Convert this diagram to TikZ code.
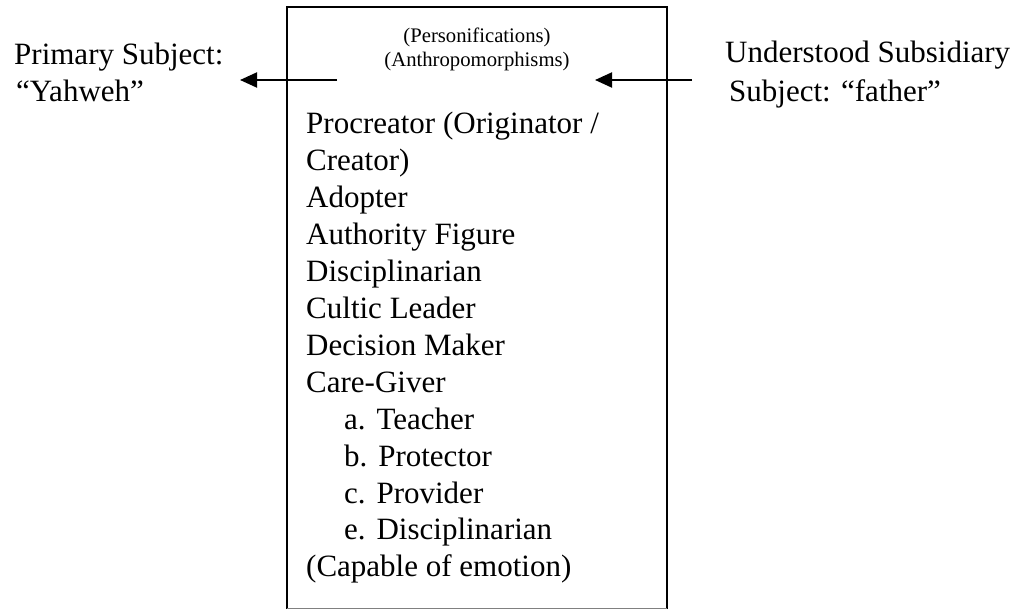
\documentclass[tikz,border=0pt]{standalone}
\usepackage{fontspec}
\setmainfont{Liberation Serif}
\usetikzlibrary{arrows.meta, positioning}

\tikzset{
	txt/.style={inner sep=0pt, anchor=base west, font=\fontsize{31}{36.8}\selectfont},
	hdrtxt/.style={inner sep=0pt, anchor=base, font=\fontsize{20.7}{23.5}\selectfont},
	pointer/.style={line width=2pt, -{Triangle[length=17pt,width=15pt]}}
}

\begin{document}
\begin{tikzpicture}[x=1pt,y=-1pt]
	\useasboundingbox (0,0) rectangle (1024,609);
	% NOTE: y runs downwards here, units are pixels of the scan.
	\draw[line width=2pt] (287,609) -- (287,7) -- (667,7) -- (667,609);
	\draw[gray, line width=1pt] (287,608) -- (667,608);
	\node[hdrtxt] (hdr1) at (477,43) {(Personifications)};
	\node[hdrtxt] (hdr2) at (477,67) {(Anthropomorphisms)};
	\foreach \line [count=\i from 0] in {Procreator (Originator /, Creator), Adopter,
		Authority Figure, Disciplinarian, Cultic Leader, Decision Maker, Care-Giver,
		{\hspace{38pt}a.\hspace{0.35em}Teacher}, {\hspace{38pt}b.\hspace{0.35em}Protector},
		{\hspace{38pt}c.\hspace{0.35em}Provider}, {\hspace{38pt}e.\hspace{0.35em}Disciplinarian},
		(Capable of emotion)}
		\node[txt] (item\i) at (306,{134+36.9*\i}) {\line};
	\node[txt] (prim1) at (14,65) {Primary Subject:};
	\node[txt] (prim2) at (16,102) {“Yahweh”};
	\node[txt] (sub1) at (725,63) {Understood Subsidiary};
	\node[txt] (sub2) at (729,102) {Subject: “father”};
	\coordinate (lfrom) at (337,80);
	\coordinate (lto) at (240,80);
	\coordinate (rfrom) at (692,80);
	\coordinate (rto) at (595,80);
	\draw[pointer] (lfrom) -- (lto);
	\draw[pointer] (rfrom) -- (rto);
\end{tikzpicture}
\end{document}
